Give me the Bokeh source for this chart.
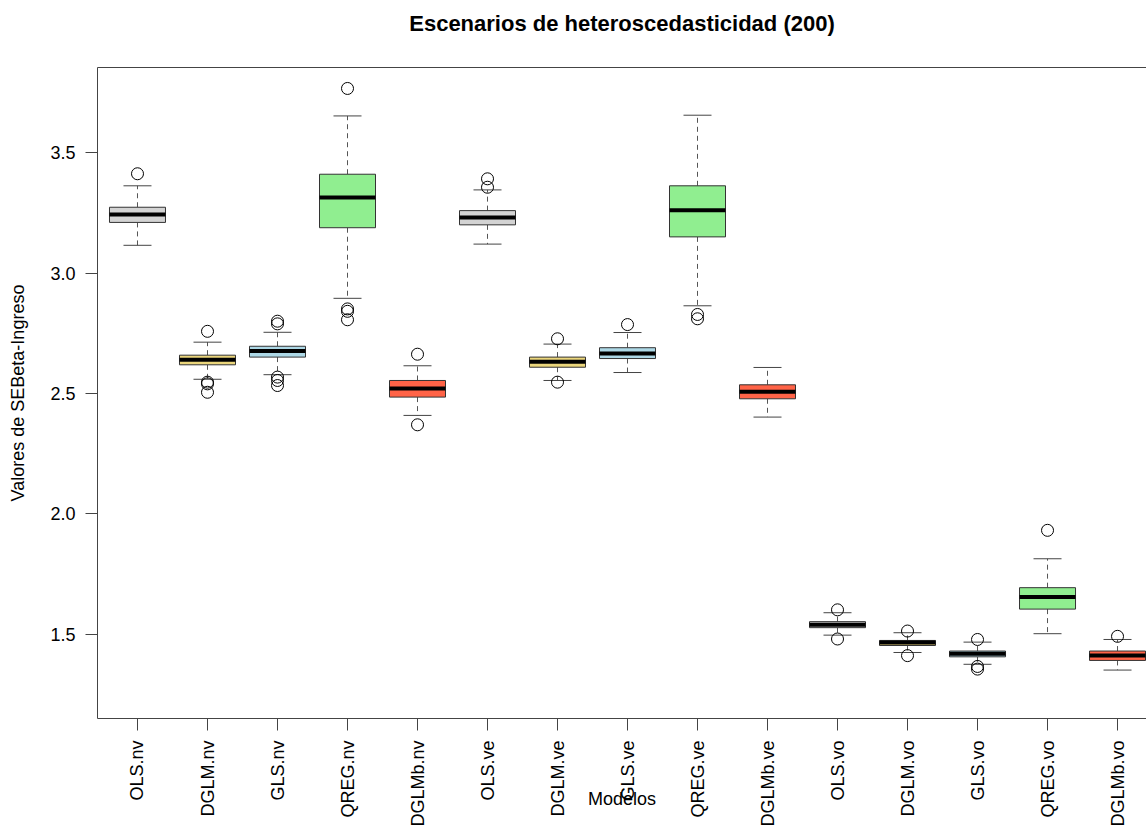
import math
from bokeh.plotting import figure
from bokeh.models import (FixedTicker, NumeralTickFormatter, LinearAxis,
                          ColumnDataSource, Range1d)
from bokeh.embed import file_html
from bokeh.resources import INLINE

# ---------------- data ----------------
labels = ["OLS.nv", "DGLM.nv", "GLS.nv", "QREG.nv", "DGLMb.nv",
          "OLS.ve", "DGLM.ve", "GLS.ve", "QREG.ve", "DGLMb.ve",
          "OLS.vo", "DGLM.vo", "GLS.vo", "QREG.vo", "DGLMb.vo"]
lower = [3.115, 2.559, 2.578, 2.895, 2.409, 3.120, 2.554, 2.587, 2.864, 2.402,
         1.497, 1.425, 1.376, 1.503, 1.352]
q1 = [3.210, 2.619, 2.651, 3.188, 2.485, 3.200, 2.609, 2.645, 3.150, 2.478,
      1.528, 1.454, 1.407, 1.605, 1.392]
median = [3.243, 2.640, 2.676, 3.313, 2.521, 3.230, 2.632, 2.666, 3.261, 2.507,
          1.540, 1.466, 1.420, 1.655, 1.412]
q3 = [3.273, 2.659, 2.696, 3.410, 2.554, 3.259, 2.651, 2.690, 3.362, 2.536,
      1.553, 1.475, 1.431, 1.694, 1.431]
upper = [3.362, 2.713, 2.754, 3.652, 2.615, 3.345, 2.705, 2.753, 3.655, 2.608,
         1.590, 1.507, 1.468, 1.814, 1.479]
outliers = {
    "OLS.nv": [3.412],
    "DGLM.nv": [2.758, 2.547, 2.540, 2.505],
    "GLS.nv": [2.800, 2.789, 2.568, 2.554, 2.533],
    "QREG.nv": [3.766, 2.851, 2.841, 2.806],
    "DGLMb.nv": [2.663, 2.370],
    "OLS.ve": [3.391, 3.356],
    "DGLM.ve": [2.727, 2.547],
    "GLS.ve": [2.786],
    "QREG.ve": [2.828, 2.810],
    "DGLMb.ve": [],
    "OLS.vo": [1.602, 1.481],
    "DGLM.vo": [1.514, 1.412],
    "GLS.vo": [1.479, 1.367, 1.356],
    "QREG.vo": [1.932],
    "DGLMb.vo": [1.492],
}
model_colors = {"OLS": "#D3D3D3", "DGLM": "#EBD67C", "GLS": "#ADD8E6",
                "QREG": "#90EE90", "DGLMb": "#FF6347"}
y_ticks = [1.5, 2.0, 2.5, 3.0, 3.5]
title_text = "Escenarios de heteroscedasticidad (200)"
x_title = "Modelos"
y_title = "Valores de SEBeta-Ingreso"

# ---------------- derived ----------------
pos = list(range(1, len(labels) + 1))
fills = [model_colors[l.split(".")[0]] for l in labels]
BW = 0.8
src = ColumnDataSource(dict(
    x=pos, lower=lower, q1=q1, med=median, q3=q3, upper=upper, fill=fills,
    xl=[p_ - BW / 2 for p_ in pos], xr=[p_ + BW / 2 for p_ in pos],
    sl=[p_ - BW / 4 for p_ in pos], sr=[p_ + BW / 4 for p_ in pos],
))
ox, oy = [], []
for i, l in enumerate(labels):
    for v in outliers[l]:
        ox.append(pos[i]); oy.append(v)

FONT = "Liberation Sans"
AX = "#444444"
FS = "18px"

p = figure(width=1146, height=832, output_backend="svg", toolbar_location=None,
           x_range=Range1d(0.4286, 15.414), y_range=Range1d(1.151, 3.853),
           min_border_left=97, min_border_right=0, min_border_top=67,
           min_border_bottom=114)
p.outline_line_color = None
p.grid.visible = False
p.background_fill_color = "white"
p.border_fill_color = "white"

# whiskers
p.segment(x0="x", y0="q3", x1="x", y1="upper", source=src, line_color="#555555",
          line_width=1, line_dash="5 4")
p.segment(x0="x", y0="q1", x1="x", y1="lower", source=src, line_color="#555555",
          line_width=1, line_dash="5 4")
p.segment(x0="sl", y0="upper", x1="sr", y1="upper", source=src, line_color="#444444", line_width=1)
p.segment(x0="sl", y0="lower", x1="sr", y1="lower", source=src, line_color="#444444", line_width=1)
# boxes
p.quad(left="xl", right="xr", bottom="q1", top="q3", source=src, fill_color="fill",
       line_color="#333333", line_width=1)
p.segment(x0="xl", y0="med", x1="xr", y1="med", source=src, line_color="black", line_width=4)
# outliers
p.scatter(ox, oy, marker="circle", size=12, fill_color=None, line_color="black", line_width=1)

# axes
xa = p.xaxis[0]
xa.ticker = FixedTicker(ticks=pos)
xa.major_label_overrides = {p_: l for p_, l in zip(pos, labels)}
xa.major_label_orientation = math.pi / 2
xa.minor_tick_line_color = None
xa.axis_label = x_title
xa.axis_label_text_font = FONT
xa.axis_label_text_font_size = FS
xa.axis_label_text_font_style = "normal"
xa.axis_label_text_color = "black"
xa.axis_label_standoff = -41
for ax in (p.xaxis[0], p.yaxis[0]):
    ax.axis_line_color = AX
    ax.major_tick_line_color = AX
    ax.major_tick_in = 0
    ax.major_tick_out = 12
    ax.major_label_standoff = 10
    ax.major_label_text_font = FONT
    ax.major_label_text_font_size = FS
    ax.major_label_text_color = "black"

ya = p.yaxis[0]
ya.ticker = FixedTicker(ticks=y_ticks)
ya.formatter = NumeralTickFormatter(format="0.0")
ya.minor_tick_line_color = None
ya.axis_label = y_title
ya.axis_label_text_font = FONT
ya.axis_label_text_font_size = FS
ya.axis_label_text_font_style = "normal"
ya.axis_label_text_color = "black"
ya.axis_label_standoff = 19

# top frame line carrying the chart title
top = LinearAxis(ticker=FixedTicker(ticks=[]), axis_line_color=AX,
                 major_tick_line_color=None, minor_tick_line_color=None,
                 major_tick_out=0, major_label_standoff=0,
                 axis_label=title_text, axis_label_standoff=32,
                 axis_label_text_font=FONT, axis_label_text_font_size="22px",
                 axis_label_text_font_style="bold", axis_label_text_color="black")
p.add_layout(top, "above")

open("out.html", "w").write(file_html(p, INLINE))
